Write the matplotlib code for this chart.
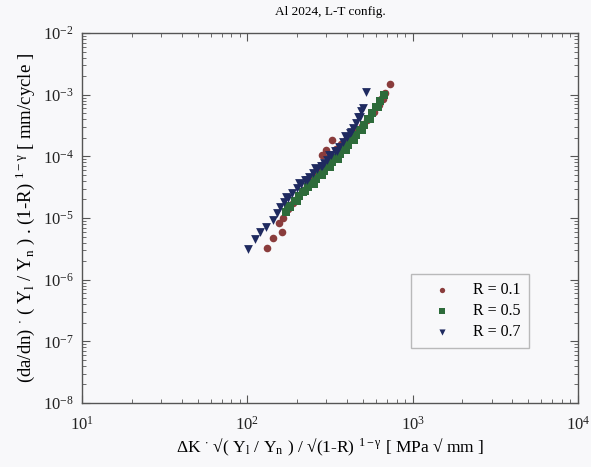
import matplotlib
matplotlib.use("Agg")
import matplotlib.pyplot as plt
from matplotlib.ticker import LogLocator, NullFormatter

plt.rcParams['font.family'] = ['Liberation Serif', 'DejaVu Serif']
plt.rcParams['mathtext.fontset'] = 'stix'

# R = 0.1 (circles)
x_r01 = [131, 143, 162, 155, 164, 176, 188, 202, 217, 232, 249, 267, 282, 298,
         324, 343, 367, 394, 422, 453, 492, 527, 565, 606, 641, 677, 726,
         240, 258, 310, 545, 585, 625, 660]
y_r01 = [3.28e-6, 4.76e-6, 5.95e-6, 8.33e-6, 1.0e-5, 1.40e-5, 1.76e-5, 2.20e-5,
         2.85e-5, 3.57e-5, 4.64e-5, 6.49e-5, 1.05e-4, 1.27e-4, 1.85e-4, 1.32e-4,
         1.59e-4, 1.84e-4, 2.22e-4, 2.68e-4, 3.11e-4, 3.89e-4, 5.05e-4, 6.56e-4,
         8.51e-4, 1.07e-3, 1.49e-3,
         3.9e-5, 5.0e-5, 1.0e-4, 4.2e-4, 5.3e-4, 6.9e-4, 8.4e-4]

# R = 0.5 (squares)
x_r05 = [171, 181, 194, 205, 217, 232, 245, 259, 274, 290, 307, 324, 343, 362,
         383, 405, 428, 453, 478, 506, 535, 565, 598, 632, 668,
         176, 199, 224, 252, 282, 315, 352, 394, 440, 492, 550, 615]
y_r05 = [1.26e-5, 1.51e-5, 1.89e-5, 2.28e-5, 2.65e-5, 3.19e-5, 3.71e-5, 4.30e-5,
         4.99e-5, 5.80e-5, 6.73e-5, 8.11e-5, 9.42e-5, 1.09e-4, 1.32e-4, 1.53e-4,
         1.84e-4, 2.22e-4, 2.68e-4, 3.23e-4, 4.04e-4, 5.05e-4, 6.32e-4, 7.90e-4,
         9.89e-4,
         1.55e-5, 1.9e-5, 2.75e-5, 3.6e-5, 4.9e-5, 6.7e-5, 9.1e-5, 1.28e-4,
         1.85e-4, 2.7e-4, 4.0e-4, 6.3e-4]

# R = 0.7 (triangles)
x_r07 = [100.7, 111, 119, 129, 143, 151, 157, 166, 176, 186, 199, 210, 223, 235,
         249, 263, 278, 290, 302, 320, 338, 357, 378, 399, 416, 434, 452, 478,
         499, 520,
         171, 204, 229, 256, 284, 311, 347, 388, 425, 465, 488]
y_r07 = [3.16e-6, 4.58e-6, 5.95e-6, 7.17e-6, 9.31e-6, 1.21e-5, 1.51e-5, 1.82e-5,
         2.12e-5, 2.55e-5, 3.07e-5, 3.57e-5, 4.14e-5, 4.64e-5, 5.38e-5, 6.25e-5,
         6.99e-5, 7.82e-5, 8.74e-5, 1.05e-4, 1.22e-4, 1.42e-4, 1.71e-4, 2.06e-4,
         2.39e-4, 2.89e-4, 3.48e-4, 4.35e-4, 6.09e-4, 1.11e-3,
         2.2e-5, 3.7e-5, 4.2e-5, 6.5e-5, 7.0e-5, 1.07e-4, 1.22e-4, 2.1e-4,
         2.5e-4, 4.3e-4, 5.4e-4]

labels = ['R = 0.1', 'R = 0.5', 'R = 0.7']
colors = ['#8a3c3c', '#2d6b3a', '#1f2a60']

fig = plt.figure(figsize=(5.91, 4.67), dpi=100, facecolor='#f8f8fa')
ax = fig.add_axes([0.1387, 0.137, 0.8393, 0.7923])
ax.set_facecolor('#f8f8fa')

ax.scatter(x_r01, y_r01, s=30, marker='o', color=colors[0], label=labels[0], linewidths=0, zorder=3)
ax.scatter(x_r05, y_r05, s=28, marker='s', color=colors[1], label=labels[1], linewidths=0, zorder=3)
ax.scatter(x_r07, y_r07, s=40, marker='v', color=colors[2], label=labels[2], linewidths=0, zorder=4)

ax.set_xscale('log')
ax.set_yscale('log')
ax.set_xlim(10, 1e4)
ax.set_ylim(1e-8, 1e-2)

ax.xaxis.set_major_locator(LogLocator(base=10, numticks=10))
ax.yaxis.set_major_locator(LogLocator(base=10, numticks=10))
ax.xaxis.set_minor_locator(LogLocator(base=10, subs=range(2, 10), numticks=20))
ax.yaxis.set_minor_locator(LogLocator(base=10, subs=range(2, 10), numticks=20))
ax.xaxis.set_minor_formatter(NullFormatter())
ax.yaxis.set_minor_formatter(NullFormatter())

ax.tick_params(which='both', direction='in', top=True, right=True, colors='#555555',
               labelcolor='#222222', labelsize=12)
ax.tick_params(which='major', length=6, width=0.8)
ax.tick_params(which='minor', length=3, width=0.6)
ax.tick_params(axis='x', pad=9)
ax.tick_params(axis='y', pad=6)
for sp in ax.spines.values():
    sp.set_color('#555555')
    sp.set_linewidth(1.0)

ax.set_title('Al 2024, L-T config.', fontsize=9.5, pad=13)
ax.set_xlabel('\u0394K $^{\\cdot}$ \u221a( Y$_\\mathregular{l}$ / Y$_\\mathregular{n}$ ) / \u221a(1-R) $^\\mathregular{1-\\gamma}$ [ MPa \u221a mm ]',
              fontsize=12.5, labelpad=2)
ax.set_ylabel('(da/dn) $^{\\cdot}$ ( Y$_\\mathregular{l}$ / Y$_\\mathregular{n}$ ) . (1-R) $^\\mathregular{1-\\gamma}$ [ mm/cycle ]',
              fontsize=13.5, labelpad=4)

leg = ax.legend(loc='lower right', bbox_to_anchor=(0.901, 0.149), borderaxespad=0,
                fontsize=11.5, markerscale=0.7, frameon=True, fancybox=False,
                handletextpad=0.5, borderpad=0.5, labelspacing=0.3, handlelength=2.9)
leg.get_frame().set_edgecolor('#aaaaaa')
leg.get_frame().set_facecolor('#f8f8fa')
leg.get_frame().set_linewidth(1.0)

fig.savefig('out.png', dpi=100, facecolor=fig.get_facecolor())
